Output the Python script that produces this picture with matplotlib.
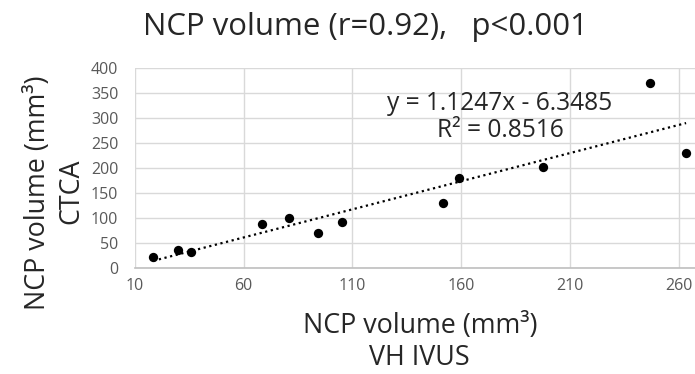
import numpy as np
import matplotlib
matplotlib.use("Agg")
import matplotlib.pyplot as plt

plt.rcParams['font.family'] = ['Open Sans', 'DejaVu Sans']

# data
vh_ivus = [18.4, 29.6, 35.7, 68.5, 80.9, 94.0, 105.4, 151.4, 158.9, 197.5, 246.8, 263.4]
ctca = [22, 37, 32, 89, 100, 70, 93, 130, 181, 202, 371, 230]
slope, intercept = 1.1247, -6.3485
x_ticks = [10, 60, 110, 160, 210, 260]
y_ticks = [0, 50, 100, 150, 200, 250, 300, 350, 400]

W, H = 695, 374
fig = plt.figure(figsize=(W / 100, H / 100), dpi=100)
ax = fig.add_axes([135 / W, 1 - 268 / H, 560 / W, 200 / H])
renderer = fig.canvas.get_renderer()


def px_text(x, y, s, width=None, size=12, **kw):
    """Place text at pixel coords (y from top); optionally fit it to a pixel width."""
    t = fig.text(x / W, 1 - y / H, s, color='#262626', fontsize=size, **kw)
    if width is not None:
        bb = t.get_window_extent(renderer)
        along = bb.height if kw.get('rotation') == 90 else bb.width
        t.set_fontsize(size * width / along)
    return t


# grid
ax.set_axisbelow(True)
ax.grid(True, color='#d9d9d9', linewidth=1.0)

xs = np.array([min(vh_ivus), max(vh_ivus)])
ax.plot(xs, slope * xs + intercept, linestyle=(0, (1, 1.6)), color='black', linewidth=1.6)
ax.scatter(vh_ivus, ctca, s=45, color='black', zorder=3, linewidths=0)

ax.set_xlim(10, 267.5)
ax.set_ylim(0, 400)
ax.set_xticks(x_ticks)
ax.set_yticks(y_ticks)
ax.tick_params(axis='both', length=0, labelsize=11.5, colors='#595959')
ax.tick_params(axis='y', pad=12)
ax.tick_params(axis='x', pad=7)

for side in ['top', 'right', 'left']:
    ax.spines[side].set_visible(False)
ax.spines['bottom'].set_color('#bfbfbf')
ax.spines['bottom'].set_linewidth(1.2)

# trendline equation
eq = px_text(500, 110, f"y = {slope}x - {abs(intercept)}", width=226, size=17,
             ha='center', va='baseline')
px_text(500, 137, "R² = 0.8516", size=eq.get_fontsize(), ha='center', va='baseline')

# title
px_text(365, 35, "NCP volume (r=0.92),   p<0.001", width=446, size=21,
        ha='center', va='baseline')

# x label
xl = px_text(420, 333, "NCP volume (mm³)", width=236, size=19, ha='center', va='baseline')
px_text(419, 365, "VH IVUS", size=xl.get_fontsize(), ha='center', va='baseline')

# y label
yl = px_text(45, 193, "NCP volume (mm³)", width=236, size=19, ha='center', va='baseline',
             rotation=90, rotation_mode='anchor')
px_text(78, 191, "CTCA", size=yl.get_fontsize(), ha='center', va='baseline',
        rotation=90, rotation_mode='anchor')

fig.savefig("out.png", dpi=100)
